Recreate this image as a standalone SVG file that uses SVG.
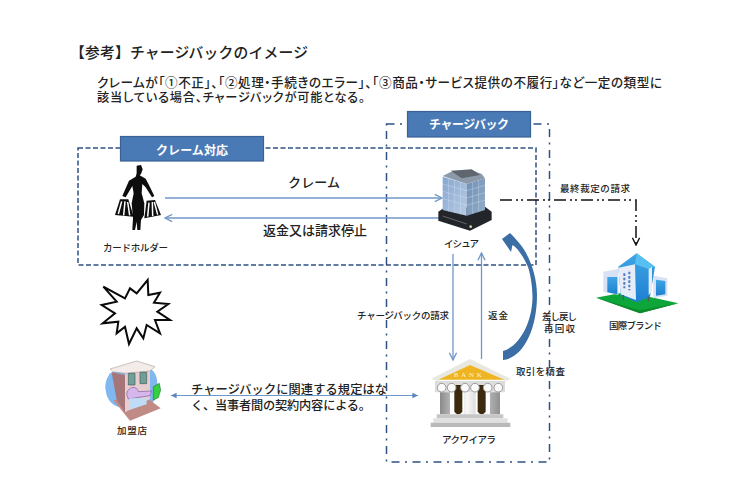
<svg xmlns="http://www.w3.org/2000/svg" width="750" height="500" viewBox="0 0 750 500">
<style>
text{font-family:"Noto Sans CJK JP","Noto Sans CJK SC",sans-serif;fill:#222;font-weight:500}
.bar{fill:#4a7ab5;stroke:#3a6296;stroke-width:1.2}
.barT{fill:#fff;font-weight:700;font-size:12px}
.box1{fill:none;stroke:#2f5182;stroke-width:1.5;stroke-dasharray:5 2.5}
.box2{fill:none;stroke:#2f5182;stroke-width:1.5;stroke-dasharray:8 5.5 2 5.5}
.ln{fill:none;stroke:#6f98c8;stroke-width:1.3}
.s{font-size:9.5px}
.m{font-size:13px}
.p{font-feature-settings:"palt"}
</style>
<defs>
<marker id="o" viewBox="0 0 10 10" refX="9" refY="5" markerWidth="9" markerHeight="9" markerUnits="userSpaceOnUse" orient="auto"><path d="M1 1L9 5L1 9" fill="none" stroke="#6f98c8" stroke-width="1.5"/></marker>
<marker id="t" viewBox="0 0 10 10" refX="9" refY="5" markerWidth="7" markerHeight="7" markerUnits="userSpaceOnUse" orient="auto-start-reverse"><path d="M1 1L9 5L1 9Z" fill="#5b86bd"/></marker>
<marker id="k" viewBox="0 0 10 10" refX="9" refY="5" markerWidth="9" markerHeight="9" markerUnits="userSpaceOnUse" orient="auto"><path d="M1 1L9 5L1 9" fill="none" stroke="#111" stroke-width="1.6"/></marker>
<filter id="b" x="-5%" y="-5%" width="110%" height="110%"><feGaussianBlur stdDeviation="1.4"/></filter>
<linearGradient id="gl" x1="0" y1="0" x2="1" y2="1"><stop offset="0" stop-color="#86a6d0"/><stop offset="1" stop-color="#b8cce4"/></linearGradient>
<linearGradient id="gr" x1="0" y1="0" x2="1" y2="1"><stop offset="0" stop-color="#6f8fb5"/><stop offset="1" stop-color="#94adc8"/></linearGradient>
<linearGradient id="col" x1="0" y1="0" x2="1" y2="0"><stop offset="0" stop-color="#8a8a8a"/><stop offset=".45" stop-color="#f8f8f8"/><stop offset="1" stop-color="#909090"/></linearGradient>
<linearGradient id="bl" x1="0" y1="0" x2="0" y2="1"><stop offset="0" stop-color="#3ea6e6"/><stop offset="1" stop-color="#1f7fd0"/></linearGradient>
</defs>

<rect width="750" height="500" fill="#fff"/>

<g id="heading">
<text x="70" y="57.500" font-size="14.800" textLength="238">【参考】チャージバックのイメージ</text>
<text class="p" x="97" y="86.500" font-size="12.600" textLength="565">クレームが「①不正」、「②処理・手続きのエラー」、「③商品・サービス提供の不履行」など一定の類型に</text>
<text class="p" x="97" y="102" font-size="12.200" textLength="268">該当している場合、チャージバックが可能となる。</text>
</g>

<g id="regions">
<rect class="box2" x="386.500" y="124" width="163" height="338"/>
<rect class="box1" x="78" y="148" width="458" height="117"/>
</g>

<g id="connectors">
<line class="ln" x1="165" y1="198" x2="442" y2="198" marker-end="url(#o)"/>
<line class="ln" x1="442" y1="218" x2="165" y2="218" marker-end="url(#o)"/>
<line class="ln" x1="453" y1="254" x2="453" y2="360" marker-end="url(#o)"/>
<line class="ln" x1="481.500" y1="359" x2="481.500" y2="253" marker-end="url(#o)"/>
<line x1="171" y1="395.500" x2="418" y2="395.500" stroke="#6f98c8" stroke-width="1.100" marker-start="url(#t)" marker-end="url(#t)"/>
<path d="M500 200H636V245" fill="none" stroke="#111" stroke-width="1.500" stroke-dasharray="12 4 2 3 2 4" marker-end="url(#k)"/>
<path id="curve" d="M503 360C523 358 537 330 537 295C537 278 531 260 523 248C518 241 514 237 510 233L502 239L511 252L512.500 245C518 248 524 258 528 267C531 276 532.500 288 532.500 298C532 322 520 346 503 351Z" fill="#3b6ea5"/>
</g>

<g id="claim-label"><rect class="bar" x="120.500" y="136.500" width="143" height="24.500"/><text class="barT" x="156" y="154.500" textLength="72">クレーム対応</text></g>
<g id="chargeback-label"><rect class="bar" x="407.500" y="111.500" width="123" height="25.500"/><text class="barT" x="429" y="128.500" textLength="80">チャージバック</text></g>

<g id="cardholder">
<g transform="translate(105 160) scale(.3333)" filter="url(#b)">
<path d="M95 17L108 15L113 28L108 42L104 46L122 56L132 75L148 108L141 112L122 82L112 72L110 100L118 130L117 165L108 180L106 210L97 210L95 185L90 210L82 210L84 175L80 130L86 100L82 78L62 112L52 108L72 62L92 50L95 40Z" fill="#0c0c0c"/>
<path d="M45 118L70 118L86 170L30 165Z" fill="#0c0c0c"/>
<path d="M125 122L150 120L168 165L118 175Z" fill="#0c0c0c"/>
<path d="M50 124L40 162M60 124L56 166M68 126L74 166M132 128L128 170M142 126L143 168M148 126L158 164" stroke="#fff" stroke-width="4.500" fill="none"/>
</g>
<text class="s" x="103" y="250.500" textLength="65">カードホルダー</text>
</g>

<g id="issuer">
<g transform="translate(430 160) scale(.3333)" filter="url(#b)">
<path d="M25 155L40 145L165 140L185 155L185 180L120 212L25 182Z" fill="#23262b"/>
<path d="M38 48L62 36L125 30L155 42L165 55L110 72Z" fill="#8c99aa"/>
<path d="M62 32L125 28L150 45L95 55Z" fill="#5f6670"/>
<path d="M38 50L110 72L110 167L38 150Z" fill="url(#gl)"/>
<path d="M110 72L165 55L165 150L110 167Z" fill="url(#gr)"/>
<path d="M56 56V155M74 61V158M92 66V163M38 72L110 92M38 94L110 114M38 116L110 136M128 66V162M146 60V156M110 92L165 76M110 114L165 98M110 136L165 120" stroke="#dfe8f3" stroke-width="1.500" stroke-opacity=".7" fill="none"/>
<path d="M38 168L110 192" stroke="#666" stroke-width="3" fill="none"/>
<circle cx="122" cy="200" r="4" fill="#cdd8a8"/>
</g>
<text class="s" x="444" y="246.500" textLength="35">イシュア</text>
</g>

<g id="brand">
<g transform="translate(590 245) scale(.3333)" filter="url(#b)">
<path d="M18 158L110 140L265 175L150 205Z" fill="#11a63a"/>
<path d="M18 158L150 205L265 175L150 196Z" fill="#0b8a2c"/>
<path d="M40 80L85 72V150L40 140Z" fill="#d8e2f4"/>
<path d="M52 96L82 96V148L52 142Z" fill="url(#bl)"/>
<path d="M190 92L232 100V152L190 160Z" fill="#d8e2f4"/>
<path d="M198 104L226 108V148L198 152Z" fill="url(#bl)"/>
<path d="M85 65L140 25L195 65L180 155L140 172L92 150Z" fill="url(#bl)"/>
<path d="M85 68L135 58L138 165L92 148Z" fill="#e6ecf8"/>
<path d="M140 25L195 65L176 72L135 58Z" fill="#58c0f0"/>
<path d="M103 85V130M118 80V136" stroke="#4d7fc0" stroke-width="6" stroke-dasharray="8 5"/>
<path d="M176 72L186 66V140L176 150Z" fill="#e6edf8"/>
<path d="M100 150V165M175 155V168" stroke="#556" stroke-width="4"/>
</g>
<text class="s" x="609" y="328.500" textLength="53">国際ブランド</text>
</g>

<g id="burst"><path transform="translate(80 270) scale(.3333)" d="M70 50L135 85L150 55L170 70L203 30L205 75L240 68L222 98L265 102L232 125L270 150L225 150L240 190L200 165L190 205L170 175L147 222L135 170L110 190L115 155L68 160L105 130L65 105L110 95Z" fill="#fff" stroke="#0a0a0a" stroke-width="6" stroke-linejoin="miter"/></g>

<g id="merchant">
<g transform="translate(100 355) scale(.3333)" filter="url(#b)">
<path d="M30 55C20 70 12 90 18 110C20 130 35 150 55 155L150 150C170 135 180 110 172 85C172 60 160 45 150 42L40 50Z" fill="#7fb7ee"/>
<path d="M40 135L90 197L182 160L150 135Z" fill="#c08a85"/>
<path d="M35 52L75 60L75 172L50 135Z" fill="#a5757a"/>
<path d="M75 45L150 40L150 132L75 172Z" fill="#e8cdd0"/>
<path d="M30 42L110 18L165 35L150 48L75 55L38 50Z" fill="#f4ece8" stroke="#9a8a88" stroke-width="1.500"/>
<path d="M85 55H105V90H85ZM120 52H140V86H120Z" fill="#6f9f96" stroke="#3d5c5c" stroke-width="2"/>
<path d="M80 118C84 92 112 92 115 110L155 108L150 122L85 132Z" fill="#d7b6ee" stroke="#7a5a9a" stroke-width="2"/>
<path d="M88 130H140V148L88 165Z" fill="#bfdcf6"/>
<path d="M160 95L178 85L182 105L175 128L160 135Z" fill="#35d040" stroke="#116622" stroke-width="1.500"/>
</g>
<text class="s" x="117" y="433.500" textLength="30">加盟店</text>
</g>

<g id="acquirer">
<g transform="translate(425 355) scale(.3333)" filter="url(#b)">
<path d="M18 72L135 12L258 72L240 78L135 30L38 78Z" fill="#e8e8e0"/>
<path d="M40 74L135 30L238 74Z" fill="#efb421"/>
<text x="86" y="66" style="font-family:'Liberation Serif',serif;font-weight:700;font-size:20px;fill:#f6e7b0;letter-spacing:9px">BANK</text>
<path d="M30 78H240V112H30Z" fill="#dcdcdc"/>
<path d="M88 90H112V170Q100 186 88 170ZM158 90H182V170Q170 186 158 170Z" fill="#3b2a10"/>
<path d="M45 112H75V178H45ZM117 112H152V178H117ZM195 112H225V178H195Z" fill="url(#col)"/>
<g fill="#fafafa" stroke="#9b9b9b" stroke-width="3"><circle cx="50" cy="98" r="13"/><circle cx="80" cy="98" r="13"/><circle cx="120" cy="98" r="13"/><circle cx="150" cy="98" r="13"/><circle cx="188" cy="98" r="13"/><circle cx="220" cy="98" r="13"/></g>
<path d="M35 178H235V190H35Z" fill="#c6c6c6"/>
<path d="M25 190H248V203H25Z" fill="#e0e0e0"/>
<path d="M17 203H256V216H17Z" fill="#b9b9b9"/>
</g>
<text class="s" x="442" y="442.500" textLength="54">アクワイアラ</text>
</g>

<g id="labels">
<text class="m" x="288" y="187" textLength="52">クレーム</text>
<text class="m" x="263" y="234.500" textLength="104">返金又は請求停止</text>
<text class="s" x="560" y="191.500" textLength="70">最終裁定の請求</text>
<text class="s" x="357" y="318.500" textLength="92">チャージバックの請求</text>
<text class="s" x="488" y="318.500" textLength="20">返金</text>
<text class="s" x="542" y="319.500" textLength="35">差し戻し</text>
<text class="s" x="544" y="331.500" textLength="31">再回収</text>
<text class="s" x="516" y="374.500" textLength="49">取引を精査</text>
<text font-size="12.200" x="191" y="393.500" textLength="196">チャージバックに関連する規定はな</text>
<text font-size="12.200" x="191" y="409.500" textLength="180">く、当事者間の契約内容による。</text>
</g>
</svg>
